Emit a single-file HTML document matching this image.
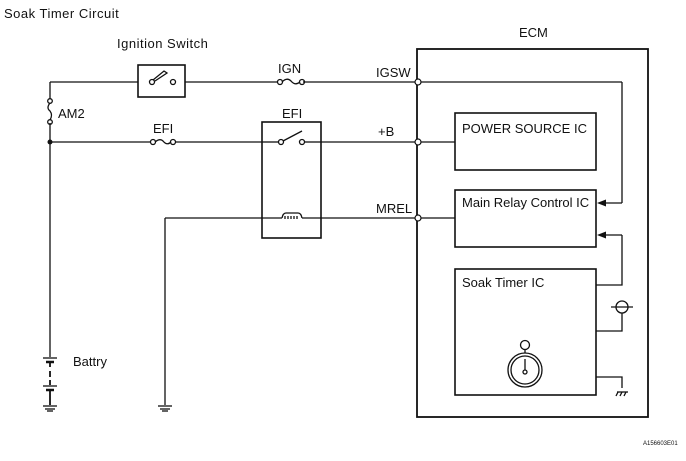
<!DOCTYPE html>
<html><head><style>
body{margin:0;background:#fff;width:686px;height:456px;overflow:hidden}
svg text{font-family:"Liberation Sans",sans-serif;fill:#111}
</style></head><body>
<svg width="686" height="456" viewBox="0 0 686 456" xmlns="http://www.w3.org/2000/svg">
<g stroke="#111" stroke-width="1.3" fill="none">
<line x1="50" y1="82" x2="50" y2="99"/>
<line x1="50" y1="123" x2="50" y2="357"/>
<line x1="50" y1="82" x2="138" y2="82"/>
<line x1="185" y1="82" x2="278" y2="82"/>
<line x1="303" y1="82" x2="415" y2="82"/>
<rect x="138" y="65" width="47" height="32" stroke-width="1.6"/>
<circle cx="152" cy="82" r="2.5"/><circle cx="173" cy="82" r="2.5"/>
<path d="M153 80 L164 71 L167 73 L155 81"/>
<circle cx="280" cy="82" r="2.5"/><circle cx="302" cy="82" r="2.5"/>
<path d="M282 82 Q287 77 291 81 Q295 86 300 82"/>
<circle cx="50" cy="101" r="2.3"/><circle cx="50" cy="122" r="2.3"/>
<path d="M50 103 Q46 108 50 111 Q53 115 50 120"/>
<line x1="50" y1="142" x2="150" y2="142"/>
<circle cx="153" cy="142" r="2.5"/><circle cx="173" cy="142" r="2.5"/>
<path d="M155 142 Q160 138 163 141 Q167 146 171 142"/>
<line x1="176" y1="142" x2="262" y2="142"/>
<line x1="321" y1="142" x2="415" y2="142"/>
<rect x="262" y="122" width="59" height="116" stroke-width="1.6"/>
<line x1="262" y1="142" x2="278" y2="142"/>
<circle cx="281" cy="142" r="2.5"/><circle cx="302" cy="142" r="2.5"/>
<line x1="283" y1="141" x2="302" y2="131"/>
<line x1="305" y1="142" x2="321" y2="142"/>
<line x1="165" y1="218" x2="282" y2="218"/>
<path d="M282 218 Q283 213 286 213 L298 213 Q301 213 302 218"/>
<path d="M285 216 v3 M288 216 v3 M291 216 v3 M294 216 v3 M297 216 v3"/>
<line x1="302" y1="218" x2="415" y2="218"/>
<line x1="165" y1="218" x2="165" y2="405"/>
<line x1="158" y1="406" x2="172" y2="406"/><line x1="160" y1="409" x2="170" y2="409"/><line x1="162" y1="411" x2="168" y2="411"/>
<line x1="43" y1="406" x2="57" y2="406"/><line x1="45" y1="409" x2="55" y2="409"/><line x1="47" y1="411" x2="53" y2="411"/>
<line x1="43" y1="358" x2="57" y2="358"/>
<line x1="46" y1="362" x2="54" y2="362" stroke-width="2.5"/>
<line x1="50" y1="362" x2="50" y2="367" stroke-width="1.8"/>
<line x1="50" y1="371" x2="50" y2="377" stroke-width="1.8" />
<line x1="50" y1="380" x2="50" y2="385" stroke-width="1.8"/>
<line x1="43" y1="386" x2="57" y2="386"/>
<line x1="46" y1="390" x2="54" y2="390" stroke-width="2.5"/>
<line x1="50" y1="390" x2="50" y2="405" stroke-width="1.8"/>
<rect x="417" y="49" width="231" height="368" stroke-width="1.8"/>
<line x1="421" y1="82" x2="622" y2="82"/>
<line x1="622" y1="82" x2="622" y2="203"/>
<line x1="622" y1="203" x2="604" y2="203"/>
<line x1="421" y1="142" x2="455" y2="142"/>
<line x1="421" y1="218" x2="455" y2="218"/>
<rect x="455" y="113" width="141" height="57" stroke-width="1.6"/>
<rect x="455" y="190" width="141" height="57" stroke-width="1.6"/>
<rect x="455" y="269" width="141" height="126" stroke-width="1.6"/>
<line x1="622" y1="235" x2="604" y2="235"/>
<polyline points="596,285 622,285 622,235"/>
<polyline points="596,331 622,331 622,313"/>
<circle cx="622" cy="307" r="6"/>
<line x1="611" y1="307" x2="633" y2="307"/>
<polyline points="596,377 622,377 622,388"/>
<line x1="617" y1="392" x2="628" y2="392"/>
<line x1="618" y1="392" x2="616" y2="396"/><line x1="622" y1="392" x2="620" y2="396"/><line x1="626" y1="392" x2="624" y2="396"/>
<circle cx="525" cy="370" r="17"/>
<circle cx="525" cy="370" r="14"/>
<circle cx="525" cy="345" r="4.5"/>
<line x1="525" y1="350" x2="525" y2="353"/>
<line x1="525" y1="359" x2="525" y2="370"/>
<circle cx="525" cy="372" r="2"/>
</g>
<g fill="#111">
<circle cx="50" cy="142" r="2.5"/>
<polygon points="597,203 606,199.5 606,206.5"/>
<polygon points="597,235 606,231.5 606,238.5"/>
</g>
<g fill="#fff" stroke="#111" stroke-width="1.2">
<circle cx="418" cy="82" r="3"/><circle cx="418" cy="142" r="3"/><circle cx="418" cy="218" r="3"/>
</g>
<g font-size="13">
<text x="4" y="18" letter-spacing="0.5">Soak Timer Circuit</text>
<text x="117" y="48" letter-spacing="0.5">Ignition Switch</text>
<text x="278" y="73">IGN</text>
<text x="58" y="118">AM2</text>
<text x="153" y="133">EFI</text>
<text x="282" y="118">EFI</text>
<text x="376" y="77">IGSW</text>
<text x="378" y="136">+B</text>
<text x="376" y="213">MREL</text>
<text x="519" y="37">ECM</text>
<text x="462" y="133">POWER SOURCE IC</text>
<text x="462" y="207">Main Relay Control IC</text>
<text x="462" y="287">Soak Timer IC</text>
<text x="73" y="366">Battry</text>
<text x="643" y="445" font-size="6">A156603E01</text>
</g>
</svg>
</body></html>
